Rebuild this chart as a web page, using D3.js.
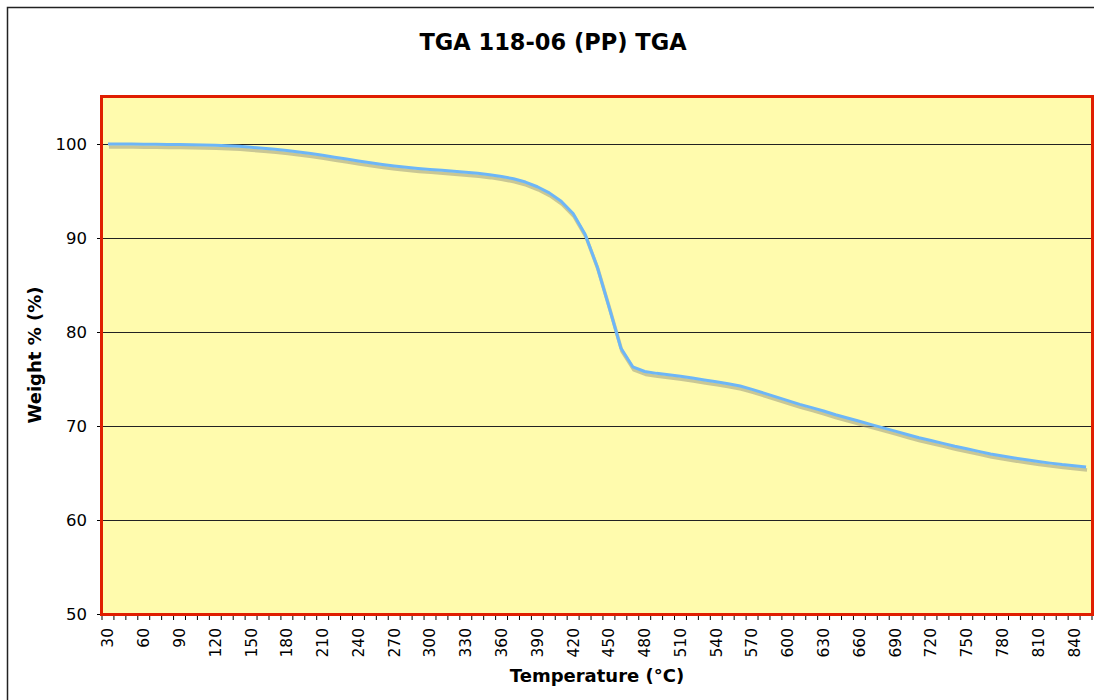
<!DOCTYPE html>
<html><head><meta charset="utf-8">
<script src="https://cdn.jsdelivr.net/npm/d3@7"></script>
<style>
html,body{margin:0;padding:0;background:#fff;}
svg{display:block;}
text{font-family:"DejaVu Sans",Verdana,sans-serif;fill:#000;}
</style></head><body>
<svg id="c" width="1094" height="700"></svg>
<script>
const title = "TGA 118-06 (PP) TGA";
const xTitle = "Temperature (°C)";
const yTitle = "Weight % (%)";
const temps = d3.range(30, 851, 10);
const weight = [
 100.0,100.0,100.0,99.98,99.97,99.96,99.95,99.93,99.9,99.87,
 99.82,99.75,99.65,99.55,99.43,99.3,99.15,98.98,98.8,98.6,
 98.4,98.2,98.0,97.82,97.66,97.52,97.4,97.3,97.2,97.1,
 97.0,96.88,96.74,96.55,96.3,95.95,95.45,94.8,93.9,92.6,
 90.4,87.0,82.7,78.3,76.3,75.8,75.6,75.45,75.3,75.1,
 74.9,74.7,74.5,74.25,73.9,73.5,73.1,72.7,72.3,71.95,
 71.6,71.2,70.85,70.5,70.15,69.8,69.45,69.1,68.75,68.45,
 68.15,67.85,67.58,67.3,67.02,66.8,66.6,66.4,66.22,66.05,
 65.9,65.78,65.65
];
const xTickLabels = d3.range(30, 841, 30);
const yTicks = [50, 60, 70, 80, 90, 100];

const svg = d3.select("#c");
const L = 102, R = 1092, T = 97, B = 614;
const x = d3.scaleBand().domain(temps).range([L, R]).padding(0);
const y = d3.scaleLinear().domain([50, 105]).range([B, T]);

// outer chart border
svg.append("rect").attr("x", 7.5).attr("y", 7.5).attr("width", 1200).attr("height", 800)
  .attr("fill", "#fff").attr("stroke", "#222").attr("stroke-width", 1.5);

// title
svg.append("text").attr("x", 553).attr("y", 50).attr("text-anchor", "middle")
  .attr("font-size", 22.5).attr("font-weight", "bold").text(title);

// plot area
svg.append("rect").attr("x", L).attr("y", T).attr("width", R - L).attr("height", B - T)
  .attr("fill", "#FFFBAD");

// grid lines
svg.append("g").selectAll("line").data(yTicks.filter(d => d > 50)).join("line")
  .attr("x1", L).attr("x2", R).attr("y1", d => y(d) + 0.5).attr("y2", d => y(d) + 0.5)
  .attr("stroke", "#222").attr("stroke-width", 1);

// y axis
const yAxis = svg.append("g").attr("transform", `translate(${L},0)`)
  .call(d3.axisLeft(y).tickValues(yTicks).tickSize(5).tickPadding(10));
yAxis.select(".domain").remove();
yAxis.selectAll(".tick line").attr("stroke", "#000");
yAxis.selectAll(".tick text").attr("font-size", 16.5).attr("font-family", '"DejaVu Sans",sans-serif').attr("fill", "#111");

// x axis labels
const xAxis = svg.append("g").attr("transform", `translate(0,${B})`)
  .call(d3.axisBottom(x).tickValues(xTickLabels).tickSize(0));
xAxis.select(".domain").attr("stroke", "#000");
xAxis.selectAll(".tick text")
  .attr("font-size", 15.5).attr("font-family", '"DejaVu Sans",sans-serif').attr("fill", "#111")
  .attr("transform", "rotate(-90)")
  .attr("text-anchor", "end").attr("x", -14).attr("y", 0).attr("dy", "0.35em");

// x tick marks at category boundaries
const bounds = temps.map(t => x(t)).concat([x(temps[temps.length - 1]) + x.bandwidth()]);
svg.append("g").selectAll("line").data(bounds).join("line")
  .attr("x1", d => d).attr("x2", d => d).attr("y1", B).attr("y2", B + 6)
  .attr("stroke", "#000").attr("stroke-width", 1);

// line + shadow
const data = temps.map((t, i) => [t, weight[i]]);
const line = d3.line().x(d => x(d[0]) + x.bandwidth() / 2).y(d => y(d[1]));
svg.append("path").datum(data).attr("d", line).attr("fill", "none")
  .attr("stroke", "#9c9c82").attr("stroke-opacity", 0.55).attr("stroke-width", 3.5)
  .attr("transform", "translate(1,3)").attr("stroke-linejoin", "round");
svg.append("path").datum(data).attr("d", line).attr("fill", "none")
  .attr("stroke", "#6DB6F7").attr("stroke-width", 3).attr("stroke-linejoin", "round");

// plot border
svg.append("rect").attr("x", L - 0.5).attr("y", T - 0.5).attr("width", R - L + 1).attr("height", B - T + 1)
  .attr("fill", "none").attr("stroke", "#E01E00").attr("stroke-width", 3);

// axis titles
svg.append("text").attr("x", 597).attr("y", 682).attr("text-anchor", "middle")
  .attr("font-size", 18).attr("font-weight", "bold").text(xTitle);
svg.append("text").attr("transform", "translate(41,355) rotate(-90)").attr("text-anchor", "middle")
  .attr("font-size", 18).attr("font-weight", "bold").text(yTitle);
</script>
</body></html>
